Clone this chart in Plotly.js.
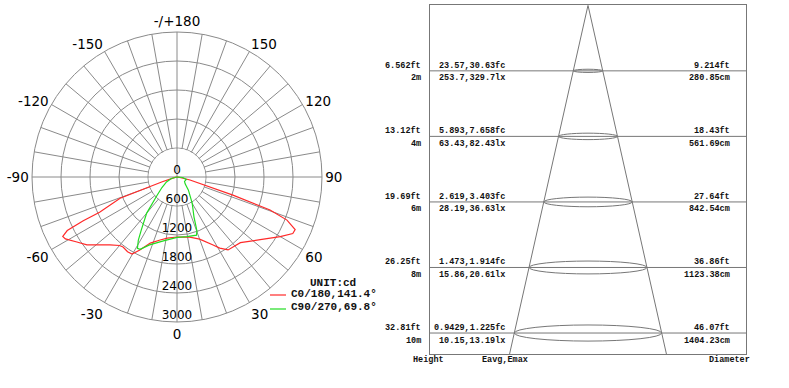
<!DOCTYPE html>
<html>
<head>
<meta charset="utf-8">
<script src="https://cdn.plot.ly/plotly-3.0.1.min.js"></script>
<style>
  html, body { margin: 0; padding: 0; background: #fff; }
  #chart { width: 789px; height: 388px; }
</style>
</head>
<body>
<div id="chart"></div>
<script>
// ---------- Polar (candela) data ----------
const redName = 'C0/180,141.4°';
const redTheta = [-90, -80, -72, -69.5, -65.5, -65, -64, -62.5, -61, -57, -53, -48.6, -44.6, -40, -37.6, -33.5, -30.3, -27, -22, -15, -9, 0, 6, 12, 20, 28, 31, 35, 39, 44, 53, 60, 64, 66, 68.6, 70.5, 72, 77, 82, 90];
const redR     = [0, 40, 320, 1257, 1760, 2140, 2526, 2665, 2640, 2470, 2334, 2125, 1975, 1850, 1829, 1854, 1845, 1693, 1475, 1350, 1279, 1241, 1250, 1270, 1368, 1592, 1717, 1842, 1855, 1888, 2156, 2466, 2665, 2676, 2444, 2042, 1217, 276, 40, 0];

const greenName = 'C90/270,69.8°';
const greenTheta = [-90, -75, -65, -55, -47, -40, -34, -31.5, -29, -27, -22, -12, 0, 9.5, 18.5, 20.3, 21, 23, 30, 41, 50, 60, 75, 85, 90];
const greenR     = [0, 120, 240, 380, 575, 975, 1320, 1530, 1690, 1680, 1515, 1350, 1250, 1250, 1270, 1190, 1100, 900, 630, 360, 220, 180, 200, 120, 0];

const radialTicks = [0, 600, 1200, 1800, 2400, 3000];
const radialTickText = ['0', '600', '1200', '1800', '2400', '3000'];
const angleTickVals = [0, 30, 60, 90, 120, 150, 180, 210, 240, 270, 300, 330];
const angleTickText = ['0', '30', '60', '90', '120', '150', '-/+180', '-150', '-120', '-90', '-60', '-30'];
const unitLabel = 'UNIT:cd';

// ---------- Cone (illuminance) data ----------
const heightsM = [2, 4, 6, 8, 10];
const heightsM_text = ['2m', '4m', '6m', '8m', '10m'];
const heightsFt = ['6.562ft', '13.12ft', '19.69ft', '26.25ft', '32.81ft'];
const eFc = ['23.57,30.63fc', '5.893,7.658fc', '2.619,3.403fc', '1.473,1.914fc', '0.9429,1.225fc'];
const eLx = ['253.7,329.7lx', '63.43,82.43lx', '28.19,36.63lx', '15.86,20.61lx', '10.15,13.19lx'];
const diamFt = ['9.214ft', '18.43ft', '27.64ft', '36.86ft', '46.07ft'];
const diamCm = [280.85, 561.69, 842.54, 1123.38, 1404.23];
const bottomLabels = ['Height', 'Eavg,Emax', 'Diameter'];

// ---------- Build ----------
const W = 789, H = 388;
const gridCol = '#8a8a8a';
const coneCol = '#777777';
const mono = {family: 'Liberation Mono, Courier New, monospace', size: 8.5, color: '#111', weight: 'bold'};

// full tick grid every 10 deg, label only every 30
const allTicks = [], allText = [];
for (let a = 0; a < 360; a += 10) {
  allTicks.push(a);
  const i = angleTickVals.indexOf(a);
  allText.push(i >= 0 ? angleTickText[i] : '');
}

// inner white disk (hides spokes inside first ring), decoration only
const diskTheta = [], diskR = [];
for (let a = 0; a <= 360; a += 5) { diskTheta.push(a); diskR.push(radialTicks[1] - 12); }

const traces = [
  {type: 'scatterpolar', theta: diskTheta, r: diskR, mode: 'lines', fill: 'toself',
   fillcolor: '#ffffff', line: {width: 0, color: '#ffffff'}, hoverinfo: 'skip', showlegend: false},
  {type: 'scatterpolar', theta: [0, 180], r: [radialTicks[1], radialTicks[1]], mode: 'lines',
   line: {width: 1, color: gridCol}, hoverinfo: 'skip', showlegend: false},
  {type: 'scatterpolar', theta: [90, 270], r: [radialTicks[1], radialTicks[1]], mode: 'lines',
   line: {width: 1, color: gridCol}, hoverinfo: 'skip', showlegend: false},
  {type: 'scatterpolar', name: redName, theta: redTheta, r: redR, mode: 'lines',
   line: {color: '#ff2a2a', width: 1.2}, showlegend: false},
  {type: 'scatterpolar', name: greenName, theta: greenTheta, r: greenR, mode: 'lines',
   line: {color: '#22dd22', width: 1.2}, showlegend: false},
  {type: 'scatterpolar', theta: radialTicks.map(() => 0), r: radialTicks, mode: 'text',
   text: radialTickText, textposition: 'top center', cliponaxis: false,
   textfont: {family: 'DejaVu Sans', size: 12, color: '#000'}, hoverinfo: 'skip', showlegend: false}
];

// cone geometry derived from the diameter data
const yBottom = 10.64;
const halfSlope = (diamCm[diamCm.length - 1] / 100 / 2) / heightsM[heightsM.length - 1];
traces.push({type: 'scatter', xaxis: 'x', yaxis: 'y', mode: 'lines',
  x: [-halfSlope * yBottom, 0, halfSlope * yBottom], y: [yBottom, 0, yBottom],
  line: {color: coneCol, width: 1}, hoverinfo: 'skip', showlegend: false});

const shapes = [];
const annotations = [];
heightsM.forEach((h, i) => {
  const d = diamCm[i] / 100;
  shapes.push({type: 'line', xref: 'x domain', x0: 0, x1: 1, yref: 'y', y0: h, y1: h,
               line: {color: coneCol, width: 1}});
  shapes.push({type: 'circle', xref: 'x', yref: 'y', x0: -d / 2, x1: d / 2,
               y0: h - 0.0175 * d, y1: h + 0.0175 * d, line: {color: coneCol, width: 1}});
  const base = {yref: 'y', y: h, showarrow: false, font: mono, yanchor: 'middle', xref: 'x domain'};
  annotations.push(Object.assign({}, base, {x: -0.021, xanchor: 'right', text: heightsFt[i], yshift: 5}));
  annotations.push(Object.assign({}, base, {x: -0.021, xanchor: 'right', text: heightsM_text[i], yshift: -7.5}));
  annotations.push(Object.assign({}, base, {x: 0.245, xanchor: 'right', text: eFc[i], yshift: 5}));
  annotations.push(Object.assign({}, base, {x: 0.245, xanchor: 'right', text: eLx[i], yshift: -7.5}));
  annotations.push(Object.assign({}, base, {x: 0.957, xanchor: 'right', text: diamFt[i], yshift: 5}));
  annotations.push(Object.assign({}, base, {x: 0.957, xanchor: 'right', text: diamCm[i].toFixed(2) + 'cm', yshift: -7.5}));
});
const bottomX = [428, 505, 729];
bottomLabels.forEach((t, i) => {
  annotations.push({xref: 'paper', yref: 'paper', x: bottomX[i] / W, y: (H - 360) / H,
    xanchor: 'center', yanchor: 'middle', text: t, showarrow: false, font: mono});
});

// manual legend
const legFont = {family: 'Liberation Mono, Courier New, monospace', size: 11, color: '#111', weight: 'bold'};
annotations.push({xref: 'paper', yref: 'paper', x: 333 / W, y: (H - 283) / H, xanchor: 'center', yanchor: 'middle',
  text: unitLabel, showarrow: false, font: legFont});
annotations.push({xref: 'paper', yref: 'paper', x: 289 / W, y: (H - 294) / H, xanchor: 'left', yanchor: 'middle',
  text: redName, showarrow: false, font: legFont});
annotations.push({xref: 'paper', yref: 'paper', x: 289 / W, y: (H - 307) / H, xanchor: 'left', yanchor: 'middle',
  text: greenName, showarrow: false, font: legFont});
shapes.push({type: 'line', xref: 'paper', yref: 'paper', x0: 270 / W, x1: 286 / W, y0: (H - 295) / H, y1: (H - 295) / H,
  line: {color: '#ff2a2a', width: 1.2}});
shapes.push({type: 'line', xref: 'paper', yref: 'paper', x0: 270 / W, x1: 286 / W, y0: (H - 309) / H, y1: (H - 309) / H,
  line: {color: '#22dd22', width: 1.2}});

const layout = {
  width: W, height: H,
  margin: {l: 0, r: 0, t: 0, b: 0},
  paper_bgcolor: '#fff', plot_bgcolor: '#fff',
  showlegend: false,
  polar: {
    domain: {x: [32 / W, 322 / W], y: [66 / H, 356 / H]},
    bgcolor: '#fff',
    angularaxis: {
      rotation: -90, direction: 'counterclockwise',
      tickmode: 'array', tickvals: allTicks, ticktext: allText,
      ticks: '', showline: true, linecolor: gridCol, linewidth: 1,
      gridcolor: gridCol, gridwidth: 1,
      tickfont: {family: 'DejaVu Sans', size: 13.5, color: '#000'}
    },
    radialaxis: {
      range: [0, 3000], tickmode: 'array', tickvals: radialTicks.slice(1),
      showticklabels: false, ticks: '', showline: false,
      gridcolor: gridCol, gridwidth: 1
    }
  },
  xaxis: {domain: [430 / W, 746 / W], range: [-15.05, 15.05], showgrid: false, zeroline: false,
          showticklabels: false, ticks: '', showline: true, mirror: true, linecolor: coneCol, linewidth: 1},
  yaxis: {domain: [34 / H, 382.7 / H], range: [yBottom, 0], showgrid: false, zeroline: false,
          showticklabels: false, ticks: '', showline: true, mirror: true, linecolor: coneCol, linewidth: 1},
  shapes: shapes,
  annotations: annotations
};

Plotly.newPlot('chart', traces, layout, {staticPlot: true, displayModeBar: false});
</script>
</body>
</html>
